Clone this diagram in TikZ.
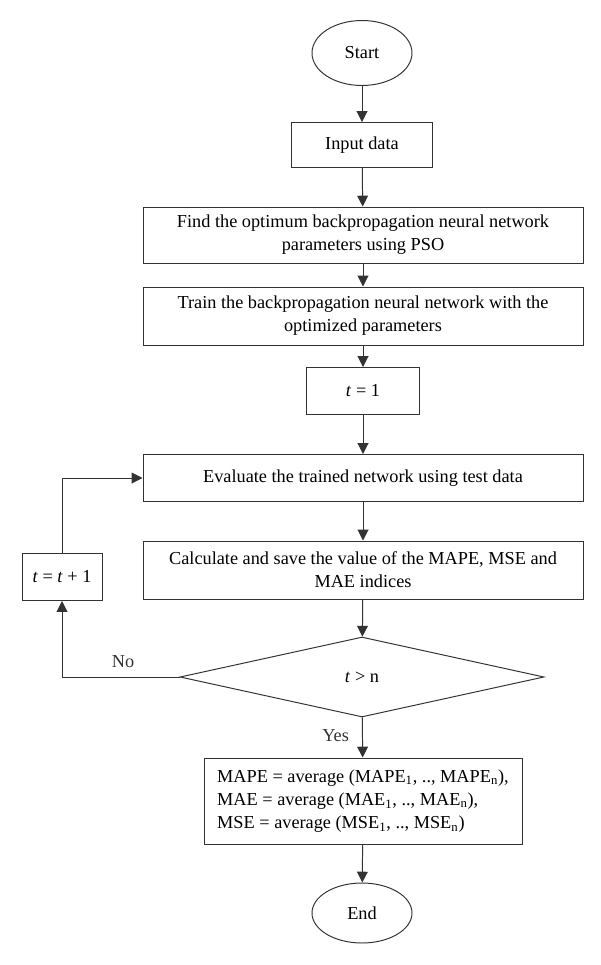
\documentclass[tikz,border=0pt]{standalone}
\usepackage{fontspec}
\setmainfont{Liberation Serif}
\usetikzlibrary{
    shapes.geometric,
    arrows.meta,
    positioning
}

\begin{document}
\begin{tikzpicture}[
            font=\fontsize{13}{16.5}\selectfont,
            >=Triangle,
            line/.style={draw=black!80, line width=0.7pt},
            block/.style={line, align=center, inner sep=4pt, minimum width=11cm, minimum height=1.175cm},
            term/.style={line, ellipse, inner sep=2pt, minimum width=2.5cm},
            decide/.style={line, diamond, inner sep=0pt, minimum width=9.1cm, minimum height=2cm},
            arr/.style={-{Triangle[length=2.7mm, width=2.7mm]}, line width=0.7pt, black!80}
        ]
            \useasboundingbox (0,0) rectangle (15,-24.125);

            % ====== Main column ======
            \node[term, minimum height=1.625cm] (start) at (9.05, -1.325) {Start};
            \node[block, minimum width=3.525cm, minimum height=1.125cm] (input) at (9.05, -3.625) {Input data};
            \node[block, minimum height=1.4cm] (find) at (9.075, -5.875)
                {Find the optimum backpropagation neural network\\parameters using PSO};
            \node[block, minimum height=1.45cm] (train) at (9.075, -7.9)
                {Train the backpropagation neural network with the\\optimized parameters};
            \node[block, minimum width=2.825cm] (tone) at (9.075, -9.775) {\textit{t} = 1};
            \node[block] (eval) at (9.075, -11.95) {Evaluate the trained network using test data};
            \node[block, minimum height=1.45cm] (calc) at (9.075, -14.25)
                {Calculate and save the value of the MAPE, MSE and\\MAE indices};
            \node[decide] (check) at (9.05, -16.925) {\textit{t} > n};
            \node[block, align=left, minimum width=7.95cm, minimum height=2.15cm] (result) at (9.075, -20.025)
                {MAPE = average (MAPE\textsubscript{1}, .., MAPE\textsubscript{n}),\\
                 MAE = average (MAE\textsubscript{1}, .., MAE\textsubscript{n}),\\
                 MSE = average (MSE\textsubscript{1}, .., MSE\textsubscript{n})};
            \node[term, minimum height=1.5cm] (stop) at (9.05, -22.825) {End};

            % ====== Loop ======
            \node[block, minimum width=2.0cm] (tinc) at (1.55, -14.425) {\textit{t} = \textit{t} + 1};

            \draw[arr] (start) -- (input);
            \draw[arr] (input) -- (find);
            \draw[arr] (find) -- (train);
            \draw[arr] (train) -- (tone);
            \draw[arr] (tone) -- (eval);
            \draw[arr] (eval) -- (calc);
            \draw[arr] (calc) -- (check);
            \draw[arr] (check) -- node[left=6pt, pos=0.45] (yes) {Yes} (result);
            \draw[arr] (result) -- (stop);
            \draw[arr] (check.west) -| node[pos=0.24, above=3pt] (no) {No} (tinc.south);
            \draw[arr] (tinc.north) |- (eval.west);
        \end{tikzpicture}
\end{document}
